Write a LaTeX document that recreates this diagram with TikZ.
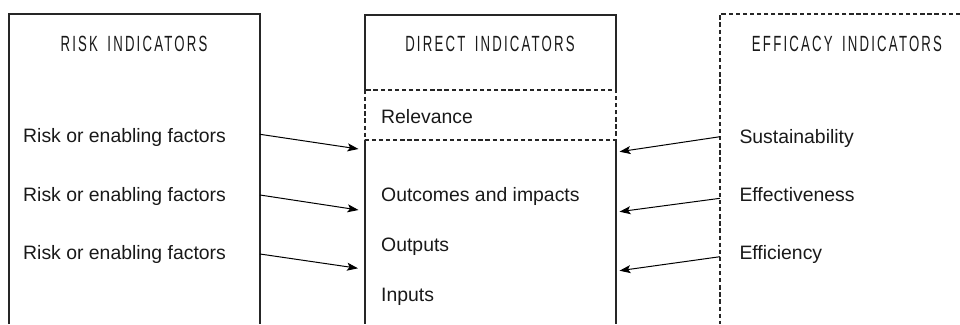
\documentclass[tikz,border=0pt]{standalone}
\usepackage{fontspec}
\setmainfont{Liberation Sans}
\newfontfamily\headfont[FakeStretch=0.6,LetterSpace=10,WordSpace=1.6]{Liberation Sans}
\usetikzlibrary{arrows.meta}
\begin{document}
\begin{tikzpicture}[x=1pt,y=-1pt,
  frame/.style={line width=1.1pt, draw=black!85},
  dsh/.style={frame, dash pattern=on 4.3pt off 2.8pt},
  item/.style={anchor=base west, inner sep=0pt, text=black!90, font=\fontsize{19.4}{22}\selectfont},
  head/.style={anchor=base, inner sep=0pt, text=black!90, font=\headfont\fontsize{22}{24}\selectfont},
  arr/.style={line width=1pt, draw=black, -{Stealth[length=11pt,width=8pt,inset=2.5pt]}}]
\useasboundingbox (0,0) rectangle (960,324);
% left box
\draw[frame] (9,324) -- (9,14) -- (260,14) -- (260,324);
% middle box
\draw[frame] (365,90) -- (365,15) -- (616,15) -- (616,90);
\draw[dsh] (365,90) rectangle (616,140);
\draw[frame] (365,140) -- (365,324);
\draw[frame] (616,140) -- (616,324);
% right box
\draw[dsh] (960,14) -- (720,14) -- (720,324);
% headers
\node[head] (hr) at (134,51) {RISK INDICATORS};
\node[head] (hd) at (490,51) {DIRECT INDICATORS};
\node[head] (he) at (847,51) {EFFICACY INDICATORS};
% left items
\node[item] (r1) at (23,142) {Risk or enabling factors};
\node[item] (r2) at (23,201) {Risk or enabling factors};
\node[item] (r3) at (23,259.3) {Risk or enabling factors};
% middle items
\node[item] (rel) at (381,123.3) {Relevance};
\node[item] (out) at (381,201) {Outcomes and impacts};
\node[item] (opt) at (381,251.7) {Outputs};
\node[item] (inp) at (381,301.7) {Inputs};
% right items
\node[item] (s1) at (739.3,143.3) {Sustainability};
\node[item] (s2) at (739.3,201.7) {Effectiveness};
\node[item] (s3) at (739.3,259.3) {Efficiency};
% arrow endpoints
\coordinate (a1) at (260,134.3); \coordinate (b1) at (358.5,149);
\coordinate (a2) at (260,195);   \coordinate (b2) at (358.5,210);
\coordinate (a3) at (260,254);   \coordinate (b3) at (358,268.3);
\coordinate (c1) at (720,136.7); \coordinate (d1) at (619.5,151.7);
\coordinate (c2) at (720,198.3); \coordinate (d2) at (619.5,211.7);
\coordinate (c3) at (720,256.7); \coordinate (d3) at (619.5,270.7);
\draw[arr] (a1) -- (b1);
\draw[arr] (a2) -- (b2);
\draw[arr] (a3) -- (b3);
\draw[arr] (c1) -- (d1);
\draw[arr] (c2) -- (d2);
\draw[arr] (c3) -- (d3);
\end{tikzpicture}
\end{document}
